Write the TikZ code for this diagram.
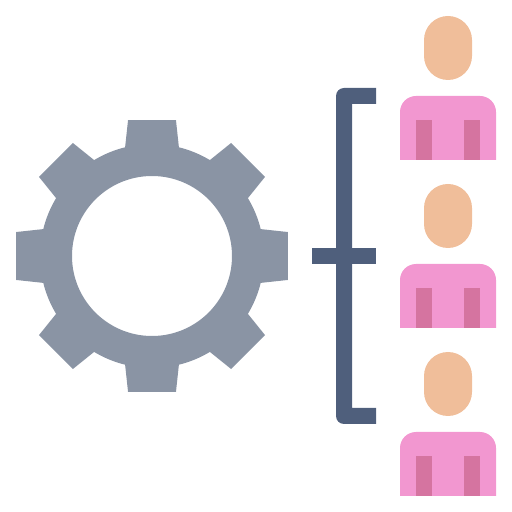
\documentclass[tikz,border=0pt]{standalone}
\usepackage{tikz}
\definecolor{gearcol}{HTML}{8A94A4}
\definecolor{barcol}{HTML}{4F5F7C}
\definecolor{headcol}{HTML}{F0BE9A}
\definecolor{shirtcol}{HTML}{F297D0}
\definecolor{stripecol}{HTML}{D574A0}
\tikzstyle{gear} = [fill=gearcol, even odd rule]
\tikzstyle{bar} = [fill=barcol]
\tikzstyle{head} = [fill=headcol, rounded corners=24pt]
\tikzstyle{shirt} = [fill=shirtcol]
\tikzstyle{stripe} = [fill=stripecol]
\begin{document}
\begin{tikzpicture}[x=1pt, y=1pt]
		\useasboundingbox (0,0) rectangle (512,512);
		% gear
		\begin{scope}[shift={(152,256)}]
			\fill [gear] (-13.9:112)
				\foreach \a in {0,45,...,315} {
					-- (\a-10:138) -- (\a+10:138) -- (\a+13.9:112)
					arc[start angle=\a+13.9, end angle=\a+31.1, radius=112pt]
				} -- cycle
				(0,0) circle[radius=80pt];
		\end{scope}
		% bracket
		\fill [bar] (376,424) -- (344,424) arc[start angle=90, end angle=180, radius=8pt]
			-- (336,96) arc[start angle=180, end angle=270, radius=8pt]
			-- (376,88) -- (376,104) -- (352,104) -- (352,408) -- (376,408) -- cycle;
		\fill [bar] (312,248) rectangle (376,264);
		% people
		\foreach \y in {0,168,336} {
			\begin{scope}[yshift=-\y pt]
				\fill [head] (424,432) rectangle (472,496);
				\fill [shirt] (400,352) -- (496,352) -- (496,400)
					arc[start angle=0, end angle=90, radius=16pt]
					-- (416,416) arc[start angle=90, end angle=180, radius=16pt] -- cycle;
				\fill [stripe] (416,352) rectangle (432,392);
				\fill [stripe] (464,352) rectangle (480,392);
			\end{scope}
		}
	\end{tikzpicture}
\end{document}
